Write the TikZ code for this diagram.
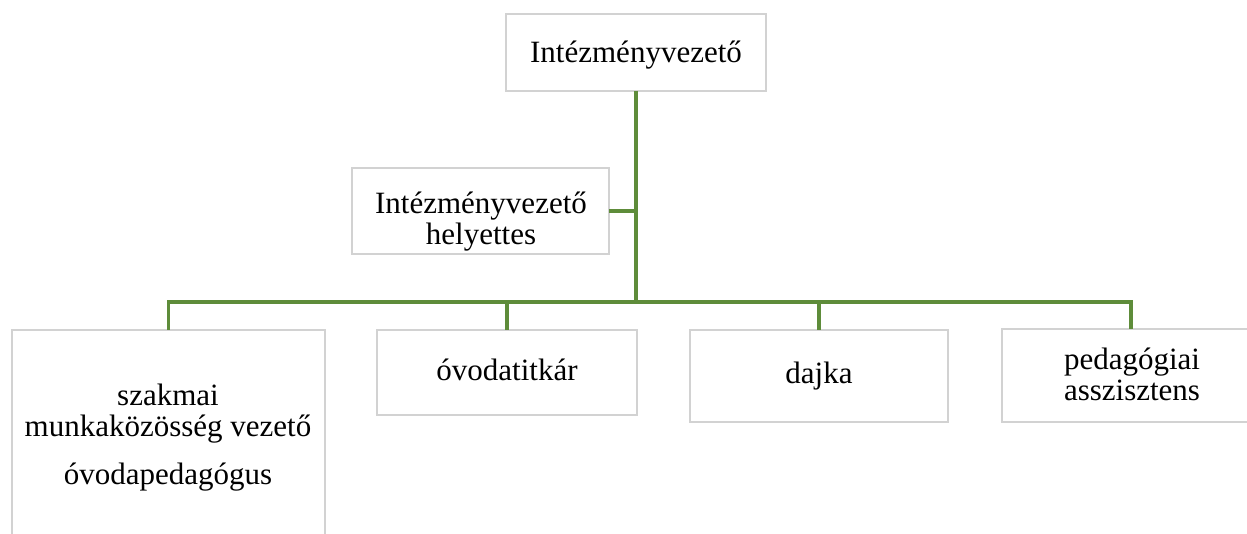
\documentclass[tikz,border=0pt]{standalone}
\usepackage{fontspec}
\setmainfont{Liberation Serif}
\definecolor{linegreen}{RGB}{94,140,58}
\definecolor{boxedge}{RGB}{210,210,210}
\tikzset{
  box/.style={draw=boxedge, line width=2.6pt, fill=white, inner sep=0pt, outer sep=0pt},
  conn/.style={draw=linegreen, line width=3.2pt},
  txt/.style={inner sep=0pt, align=center, anchor=base, font=\fontsize{31}{31}\selectfont}
}
\begin{document}
\begin{tikzpicture}[x=1pt,y=-1pt]
\useasboundingbox[fill=white] (0,0) rectangle (1247,534);
% boxes
\node[box, minimum width=260pt, minimum height=77pt] (top) at (636,52.5) {};
\node[box, minimum width=257pt, minimum height=86pt] (dep) at (480.5,211) {};
\node[box, minimum width=313pt, minimum height=240pt] (c1) at (168.5,450) {};
\node[box, minimum width=260pt, minimum height=85pt] (c2) at (507,372.5) {};
\node[box, minimum width=258pt, minimum height=92pt] (c3) at (819,376) {};
\node[box, minimum width=258pt, minimum height=93pt] (c4) at (1131,375.5) {};
% texts
\node[txt] (t0) at (636,63) {Intézményvezető};
\node[txt] (t1) at (481,245) {Intézményvezető\\helyettes};
\node[txt] (t2) at (168,484) {szakmai\\munkaközösség vezető\\[17pt]óvodapedagógus};
\node[txt] (t3) at (507,381) {óvodatitkár};
\node[txt] (t4) at (819,383) {dajka};
\node[txt] (t5) at (1132,400) {pedagógiai\\asszisztens};
% connectors
\coordinate (bus) at (636,302);
\draw[conn] (top.south) -- (bus);
\draw[conn] (dep.east) -- (dep.east -| top.south);
\draw[conn] (bus) -| (c1.north);
\draw[conn] (bus) -| (c2.north);
\draw[conn] (bus) -| (c3.north);
\draw[conn] (bus) -| (c4.north);
\end{tikzpicture}
\end{document}
